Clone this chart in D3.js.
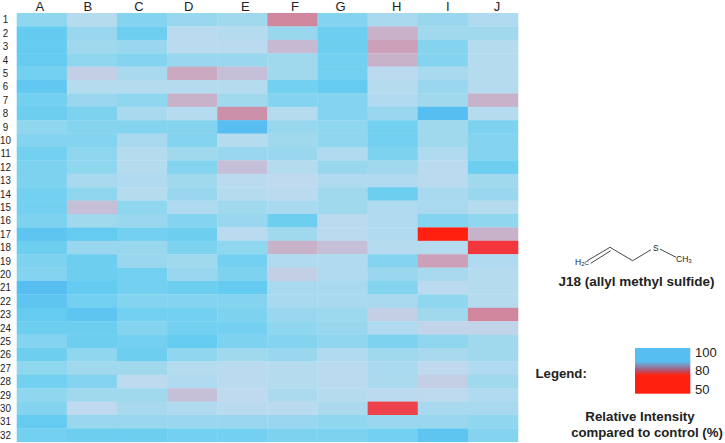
<!DOCTYPE html>
<html><head><meta charset="utf-8">
<script src="https://cdn.jsdelivr.net/npm/d3@7"></script>
<style>
html,body{margin:0;padding:0;background:#fff}
svg{display:block}
text{font-family:"Liberation Sans",Arial,sans-serif;fill:#222}
</style></head><body>
<svg id="c" width="725" height="443"></svg>
<script>
const columns = ["A","B","C","D","E","F","G","H","I","J"];
const rows = d3.range(1,33).map(String);
const colA = [93,98,98,98,96,98.5,96,97,93,94,96,95,95,96,96,95,99,97,95,94,100,99,98,97,94,97,93,96,93,94,98,96];
const colB = [88,92,91,93,85,88,92,95,94,94,93,93,90,93,84,91,98,92,97,97,98,96,99,97,97,93,91,94,91,86,92,97];
const colC = [94,97,92,94,90,88,93,90,94,90,88,88,89,88,93,92,96,92,92,96,96,94,96,94,96,97,91,86.5,91,90,92,97];
const colD = [92,87,87,92,81,88,82,88,94,94,91,94,91,92,89,94,97,95,91,92,97,94,96,96,98,93,88,89,84,89,92,96];
const colE = [91,88,87,92,84,88,91,78,100,88,92,84,87,88,91,92,87,93,96,95,98,94,95,96,95,91,87,87,86,87,92,96];
const colF = [77,92,83,91,91,96,94,88,92,91,92,88,86,87,90,97,91,82,89,85,90,90,92,93,94,92,88,88,89.5,87,92,95];
const colG = [94,97,97,96,96,98,94,94,93,93,89,92,89,91,91,87,87,84,89,89,90,90,91.5,92,93,89,87,87,88,89.5,93,95];
const colH = [90,82,80,82,87,88,89,92,96,96,95,91,89,97,89,89,89,88,94,92,94,90,85,89,95,91,90,89.5,87,68,92,96];
const colI = [92,91,94,94,90,92,91,100,91,91,89,87,87,90,90,94,50,88,80,90,87,93,91,85.5,93,90,86,85,86.5,90,92,99];
const colJ = [89,91,88,88,88,88,82,88,95,94,94,97,91,92,88,93,82,62,89,88,88,88,77,85.5,91,91,89,91,89,90,93,94];
const series = [colA,colB,colC,colD,colE,colF,colG,colH,colI,colJ];

const legendTicks = ["100","80","50"];
const colorDomain = [50,60,70,78,80,82,84,85,86,88,90,92,94,96,98,100];
const colorRange = ["#ff2010","#f43338","#ee4450","#cc90a8","#cba0b8","#c8b2c9","#c5c0d8","#c3cfe4","#bfd9ee","#b5dbef","#a8d9ee","#98d7ee","#85d4ef","#74d0f0","#65cbf0","#57bef2"];
const color = d3.scaleLinear().domain(colorDomain).range(colorRange);

const svg = d3.select("#c");
const x = d3.scaleBand().domain(columns).range([16.7,518]);
const y = d3.scaleBand().domain(rows).range([13,441.8]);

series.forEach((vals,i)=>{
  svg.append("g").selectAll("rect").data(vals).join("rect")
    .attr("x",x(columns[i])).attr("width",x.bandwidth()+0.3)
    .attr("y",(d,j)=>y(rows[j])).attr("height",y.bandwidth()+0.3)
    .attr("fill",d=>color(d));
});

// column labels
const colNudge = [-2,-4,-3,-3.5,3,2.5,-2,4,5,4];
const xAxis = svg.append("g").attr("transform","translate(0,11)")
  .call(d3.axisTop(x).tickSize(0).tickPadding(0));
xAxis.select(".domain").remove();
xAxis.selectAll("text").attr("font-size",13).style("font-family",'"Liberation Sans"').attr("fill","#222")
  .attr("dx",(d,i)=>colNudge[i]);

// row labels
const yAxis = svg.append("g").attr("transform","translate(5.5,0)")
  .call(d3.axisLeft(y).tickSize(0).tickPadding(0));
yAxis.select(".domain").remove();
yAxis.selectAll("text").attr("font-size",11.5).style("font-family",'"Liberation Sans"').attr("fill","#222")
  .attr("text-anchor","middle").attr("transform","scale(0.85,1)");

// molecule
const bondLayout = [[[587.3,260.7],[610,247.3]],[[590.7,263.3],[610.7,250.7]],[[610,247.3],[632.7,260.7]],[[632.7,260.7],[651,249.7]],[[660,249],[676,257.3]]];
const bond = d3.line();
svg.append("g").selectAll("path").data(bondLayout).join("path")
  .attr("d",bond).attr("fill","none").attr("stroke","#333").attr("stroke-width",0.9);
const atom = (sx,sy,parts)=>{
  const t = svg.append("text").attr("x",sx).attr("y",sy).attr("font-size",8.5).attr("fill","#333");
  parts.forEach(p=>t.append("tspan").text(p[0]).attr("font-size",p[1]?6:8.5).attr("dy",p[1]||0));
};
atom(575,264.5,[["H",0],["2",1.5],["C",-1.5]]);
atom(653,250.5,[["S",0]]);
atom(676,261.5,[["CH",0],["3",1.5]]);

svg.append("text").attr("x",636.5).attr("y",286).attr("text-anchor","middle").attr("font-size",13.5).attr("font-weight","bold").text("J18 (allyl methyl sulfide)");

// legend
const grad = svg.append("defs").append("linearGradient").attr("id","lg").attr("x1",0).attr("x2",0).attr("y1",0).attr("y2",1);
[[0,"#57bef2"],[0.29,"#57bef2"],[0.38,"#7f90bb"],[0.48,"#a85a78"],[0.6,"#ff2010"],[1,"#ff2010"]].forEach(s=>
  grad.append("stop").attr("offset",s[0]).attr("stop-color",s[1]));
svg.append("rect").attr("x",635).attr("y",348).attr("width",55.3).attr("height",45.7).attr("fill","url(#lg)");
const legendY = d3.scalePoint().domain(legendTicks).range([353,389.5]);
svg.append("g").selectAll("text").data(legendTicks).join("text")
  .attr("x",695).attr("y",d=>legendY(d)+4).attr("font-size",13).text(d=>d);
svg.append("text").attr("x",535.5).attr("y",378).attr("font-size",13.2).attr("font-weight","bold").text("Legend:");
svg.append("text").attr("x",640).attr("y",421).attr("text-anchor","middle").attr("font-size",13.3).attr("font-weight","bold").text("Relative Intensity");
svg.append("text").attr("x",647).attr("y",437).attr("text-anchor","middle").attr("font-size",13.2).attr("font-weight","bold").text("compared to control (%)");
</script>
</body></html>
